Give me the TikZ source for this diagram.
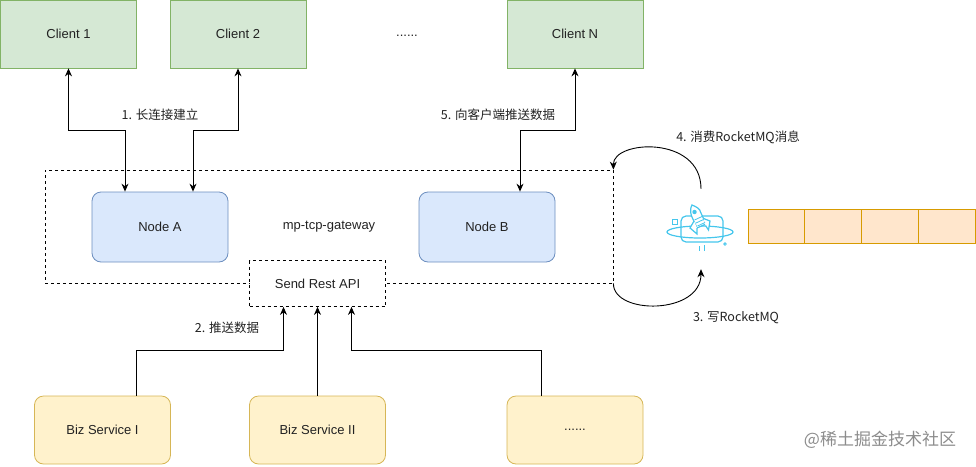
\documentclass[tikz,border=0pt]{standalone}
\usepackage{fontspec}
\setmainfont{Liberation Sans}
\newfontfamily\cjk{Noto Sans CJK SC}
\usetikzlibrary{arrows.meta}
\definecolor{gfill}{HTML}{D5E8D4}\definecolor{gline}{HTML}{82B366}
\definecolor{bfill}{HTML}{DAE8FC}\definecolor{bline}{HTML}{6C8EBF}
\definecolor{yfill}{HTML}{FFF2CC}\definecolor{yline}{HTML}{D6B656}
\definecolor{ofill}{HTML}{FFE6CC}\definecolor{oline}{HTML}{D79B00}
\definecolor{iconc}{HTML}{45C6EC}
\definecolor{txtc}{HTML}{222222}
\begin{document}
\begin{tikzpicture}[x=1pt,y=-1pt,
  lbl/.style={font=\fontsize{13}{15}\selectfont, text=txtc},
  cjklbl/.style={font=\cjk\fontsize{12.5}{15}\selectfont, text=txtc},
  client/.style={draw=gline, fill=gfill, line width=0.8pt, minimum width=136pt, minimum height=68pt, inner sep=0pt, lbl},
  gwnode/.style={draw=bline, fill=bfill, line width=0.8pt, rounded corners=9pt, minimum width=136pt, minimum height=70pt, inner sep=0pt, lbl},
  biz/.style={draw=yline, fill=yfill, line width=0.8pt, rounded corners=9pt, minimum width=136pt, minimum height=68pt, inner sep=0pt, lbl},
  qcell/.style={draw=oline, fill=ofill, line width=0.8pt, minimum width=56.75pt, minimum height=34pt, inner sep=0pt},
  dashbox/.style={draw=black, line width=0.8pt, dash pattern=on 3pt off 3pt},
  arr/.style={draw=black, line width=0.9pt, -{Stealth[length=8pt,width=7pt]}},
  both/.style={draw=black, line width=0.9pt, {Stealth[length=8pt,width=7pt]}-{Stealth[length=8pt,width=7pt]}},
  icon/.style={draw=iconc, line width=1.2pt}
]
\useasboundingbox (0,0) rectangle (976,466);

% clients
\node[client] (c1) at (68.5,34) {Client 1};
\node[client] (c2) at (238,34) {Client 2};
\node[client] (cn) at (575,34) {Client N};
\node[lbl] (cdots) at (407,36) {......};

% gateway
\node[dashbox, minimum width=568pt, minimum height=113pt, inner sep=0pt, lbl] (gw) at (329,226.5) {mp-tcp-gateway};
\node[gwnode] (nA) at (160,227) {Node A};
\node[gwnode] (nB) at (487,227) {Node B};
\node[dashbox, fill=white, minimum width=136pt, minimum height=46pt, inner sep=0pt, lbl] (sr) at (317.5,283.5) {Send Rest API};

% biz services
\node[biz] (b1) at (102.5,430) {Biz Service I};
\node[biz] (b2) at (317.5,430) {Biz Service II};
\node[biz] (b3) at (575,430) {......};

% queue
\node[qcell] (q1) at (776.4,226) {};
\node[qcell] (q2) at (833.1,226) {};
\node[qcell] (q3) at (889.9,226) {};
\node[qcell] (q4) at (946.6,226) {};

% rocketmq icon
\node[minimum width=70pt, minimum height=80pt, inner sep=0pt] (mq) at (701,229) {};
\draw[icon, rounded corners=5pt] (681,216) rectangle (723,242);
\draw[icon] (700,232) ellipse [x radius=33, y radius=6];
\draw[icon, line width=1pt] (672,219) rectangle (677,224);
\filldraw[icon, fill=white] (692,205) .. controls (697,207) and (700,209) .. (700.5,212) -- (706,224) -- (697,228) -- (691.5,216) .. controls (690.5,213) and (690,208) .. (692,205) -- cycle;
\filldraw[icon, fill=white] (703.5,218.5) -- (710,221) -- (708.5,230) -- (705.5,225.5);
\filldraw[icon, fill=white] (694,221) -- (690,228) -- (697,234) -- (697,228);
\fill[iconc] (694.5,212) circle [radius=2.2];
\draw[icon, line width=0.8pt] (694.5,220) -- (702,216.5) (696,223) -- (703.5,219.5) (697.5,226) -- (705,222.5);
\draw[icon, line width=1pt] (699,246) -- (699,251) (704,245) -- (704,251);
\draw[icon, line width=0.8pt] (725,244) circle [radius=1.3];

% client connectors
\draw[both] (c1.south) -- ++(0,62) -| ([xshift=-35pt]nA.north);
\draw[both] (c2.south) -- ++(0,62) -| ([xshift=33pt]nA.north);
\draw[both] (cn.south) -- ++(0,62) -| ([xshift=33pt]nB.north);
\node[cjklbl] (l1) at (160,115) {1. 长连接建立};
\node[cjklbl] (l5) at (498,115) {5. 向客户端推送数据};

% biz connectors
\draw[arr] ([xshift=33.5pt]b1.north) -- ++(0,-45) -| ([xshift=-34pt]sr.south);
\draw[arr] (b2.north) -- (sr.south);
\draw[arr] ([xshift=-34pt]b3.north) -- ++(0,-45) -| ([xshift=34pt]sr.south);
\node[cjklbl] (l2) at (227,328) {2. 推送数据};

% mq curves
\draw[arr] (mq.north) .. controls (701,135) and (613,140) .. (gw.north east);
\draw[arr] (gw.south east) .. controls (613,315) and (701,315) .. (mq.south);
\node[cjklbl] (l4) at (738,137) {4. 消费RocketMQ消息};
\node[cjklbl] (l3) at (736,318) {3. 写RocketMQ};

% watermark
\node[font=\cjk\fontsize{17}{19}\selectfont, text=black!45] (wm) at (880,440) {@稀土掘金技术社区};
\end{tikzpicture}
\end{document}
